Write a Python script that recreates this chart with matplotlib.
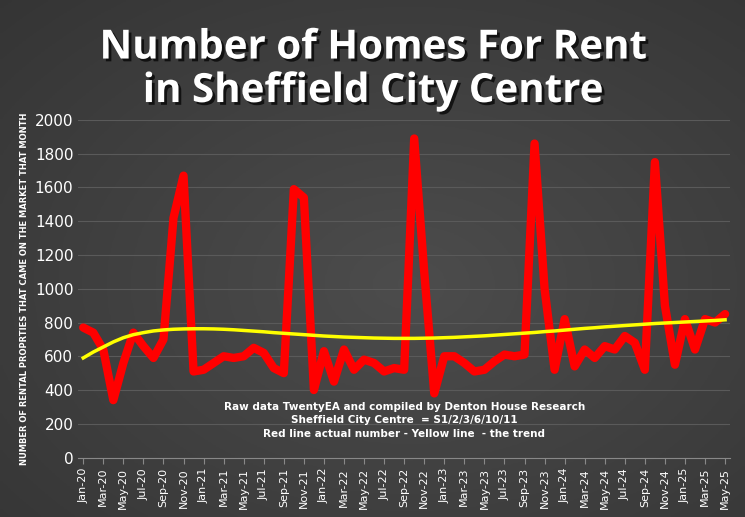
import matplotlib
matplotlib.use("Agg")
import matplotlib.pyplot as plt
import matplotlib.patheffects as pe
import numpy as np

months = ["Jan","Feb","Mar","Apr","May","Jun","Jul","Aug","Sep","Oct","Nov","Dec"]
labels = [f"{m}-{y}" for y in range(20, 26) for m in months][:65]
actual = [770,740,640,340,560,740,660,590,700,1420,1670,510,
          520,560,600,590,600,650,620,530,500,1590,1540,400,
          630,450,640,520,580,560,510,530,520,1890,1100,380,
          600,600,560,510,520,570,610,600,610,1860,1000,520,
          820,540,640,590,660,640,720,680,520,1750,900,550,
          820,640,820,800,850]
trend = [590,625,655,685,710,728,740,750,756,760,762,763,
         763,762,760,757,753,749,745,740,736,732,728,724,
         720,717,714,712,710,708,707,706,706,706,707,708,
         710,712,715,718,721,725,729,733,737,741,746,750,
         755,760,765,769,774,778,782,786,790,794,797,800,
         803,806,809,812,816]

fig = plt.figure(figsize=(7.45, 5.17), dpi=100)
bg = fig.add_axes([0, 0, 1, 1]); bg.axis("off")
yy, xx = np.mgrid[0:1:200j, 0:1:200j]
g = 0.30 - 0.12*np.sqrt((xx-0.55)**2 + (yy-0.55)**2)
bg.imshow(np.dstack([g, g, g]), extent=[0, 1, 0, 1], aspect="auto")
bg.set_xlim(0, 1); bg.set_ylim(0, 1)

ax = fig.add_axes([0.105, 0.115, 0.875, 0.653])
ax.patch.set_alpha(0)
x = np.arange(len(actual))
ax.plot(x, actual, color="#ff0000", lw=6, solid_joinstyle="round", solid_capstyle="round", zorder=3)
ax.plot(x, trend, color="#ffff00", lw=2.5, zorder=4)
ax.set_ylim(0, 2000); ax.set_xlim(-0.5, 64.5)
ax.set_yticks(range(0, 2001, 200))
ax.set_xticks(x[::2]); ax.set_xticklabels(labels[::2], rotation=90, fontsize=8, color="white")
ax.tick_params(axis="y", colors="white", labelsize=11, length=0)
ax.tick_params(axis="x", colors="#888888", length=4)
for l in ax.get_xticklabels(): l.set_color("white")
ax.grid(axis="y", color="#5a5a5a", lw=0.8)
for s in ["top", "right", "left"]: ax.spines[s].set_visible(False)
ax.spines["bottom"].set_color("#888888")
ax.set_ylabel("NUMBER OF RENTAL PROPRTIES THAT CAME ON THE MARKET THAT MONTH", color="white", fontsize=6, fontweight="bold")
ax.text(0.5, 0.11, "Raw data TwentyEA and compiled by Denton House Research\nSheffield City Centre  = S1/2/3/6/10/11\nRed line actual number - Yellow line  - the trend",
        transform=ax.transAxes, ha="center", va="center", color="white", fontsize=7.5, fontweight="bold", linespacing=1.4)
fig.text(0.5, 0.865, "Number of Homes For Rent\nin Sheffield City Centre", ha="center", va="center", color="white",
         fontsize=29, fontweight="bold", linespacing=1.15, family="Open Sans",
         path_effects=[pe.withSimplePatchShadow(offset=(2, -2), shadow_rgbFace="black", alpha=0.7)])
fig.savefig("out.png", dpi=100)
